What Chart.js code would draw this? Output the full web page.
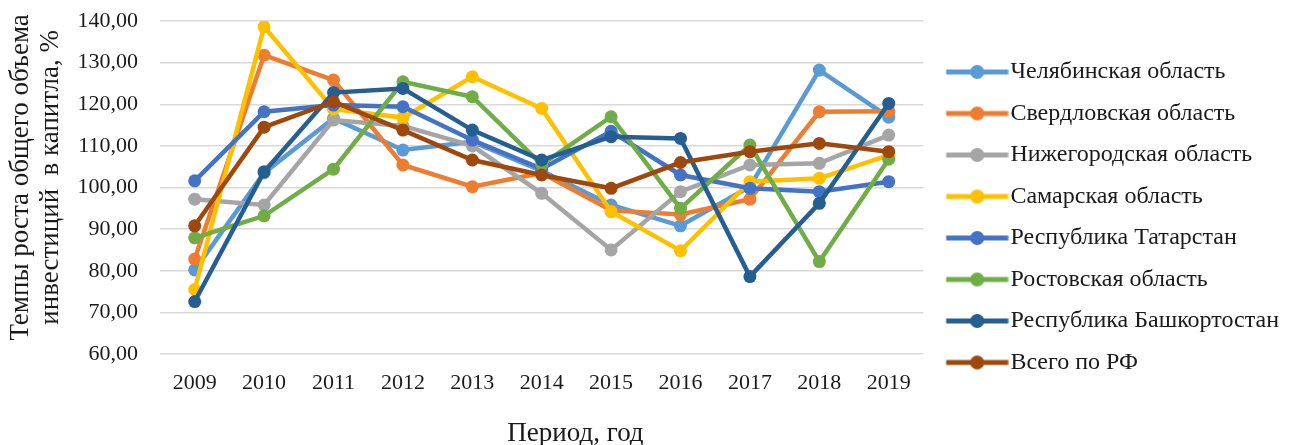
<!DOCTYPE html>
<html lang="ru">
<head>
<meta charset="utf-8">
<title>Темпы роста инвестиций</title>
<script src="https://cdn.jsdelivr.net/npm/chart.js@4.4.1/dist/chart.umd.min.js"></script>
<style>
    html, body { margin: 0; padding: 0; background: #fff; }
    #wrap { width: 1289px; height: 445px; }
</style>
</head>
<body>
<div id="wrap"><canvas id="investChart" width="1289" height="445"></canvas></div>
<script>
// ===== DATA =====
const years = ['2009', '2010', '2011', '2012', '2013', '2014', '2015', '2016', '2017', '2018', '2019'];
const seriesNames = [
    'Челябинская область',
    'Свердловская область',
    'Нижегородская область',
    'Самарская область',
    'Республика Татарстан',
    'Ростовская область',
    'Республика Башкортостан',
    'Всего по РФ'
];
const chelyabinsk = [80.2, 103.5, 116.6, 109.0, 111.0, 104.0, 95.8, 90.8, 100.2, 128.2, 116.9];
const sverdlovsk = [82.8, 131.8, 125.8, 105.4, 100.2, 103.5, 94.5, 93.5, 97.2, 118.2, 118.3];
const nizhny = [97.2, 95.8, 116.2, 114.8, 110.0, 98.6, 85.0, 99.0, 105.4, 105.8, 112.6];
const samara = [75.5, 138.6, 118.8, 116.8, 126.6, 119.0, 94.2, 84.8, 101.4, 102.2, 107.8];
const tatarstan = [101.6, 118.2, 119.8, 119.4, 111.4, 104.5, 113.5, 103.0, 99.8, 99.0, 101.4];
const rostov = [87.9, 93.2, 104.4, 125.4, 121.8, 105.5, 117.0, 95.0, 110.2, 82.2, 106.8];
const bashkortostan = [72.6, 103.8, 122.8, 123.8, 113.8, 106.6, 112.2, 111.8, 78.6, 96.2, 120.2];
const russiaTotal = [90.8, 114.5, 120.6, 113.8, 106.6, 103.0, 99.8, 106.0, 108.6, 110.6, 108.6];
const seriesValues = [chelyabinsk, sverdlovsk, nizhny, samara, tatarstan, rostov, bashkortostan, russiaTotal];
const seriesColors = ['#5B9BD5', '#ED7D31', '#A5A5A5', '#FFC000', '#4472C4', '#70AD47', '#255E91', '#9E480E'];
// leading spaces nudge the titles off-centre, as in the original
const yTitle = ['\u00a0\u00a0\u00a0Темпы роста общего объема', '\u00a0\u00a0\u00a0инвестиций  в капитла, %'];
const xTitle = '\u00a0'.repeat(10) + 'Период, год';

const FONT = 'Liberation Serif, Times New Roman, serif';
const TEXT = '#1a1a1a';

// ===== LEGEND MARKER (line with dot) =====
function makeMarker(color) {
    const c = document.createElement('canvas');
    c.width = 78;
    c.height = 16;
    const g = c.getContext('2d');
    g.strokeStyle = color;
    g.lineWidth = 5;
    g.beginPath();
    g.moveTo(15.5, 8);
    g.lineTo(77.5, 8);
    g.stroke();
    g.fillStyle = color;
    g.beginPath();
    g.arc(46.5, 8, 7, 0, Math.PI * 2);
    g.fill();
    return c;
}
const markers = seriesColors.map(makeMarker);

// ===== DATASETS =====
const datasets = seriesNames.map((name, i) => ({
    label: name,
    data: seriesValues[i],
    borderColor: seriesColors[i],
    backgroundColor: seriesColors[i],
    borderWidth: 4.5,
    pointRadius: 6.5,
    pointHoverRadius: 6.5,
    pointBorderWidth: 0,
    tension: 0,
    order: seriesNames.length - i   // later series drawn on top, like Excel
}));

// ===== CHART =====
const ctx = document.getElementById('investChart').getContext('2d');
new Chart(ctx, {
    type: 'line',
    data: { labels: years, datasets },
    options: {
        responsive: false,
        animation: false,
        layout: { padding: { top: 21, right: 0, bottom: 0, left: 0 } },
        plugins: {
            tooltip: { enabled: false },
            legend: {
                position: 'right',
                align: 'start',
                maxWidth: 400,
                title: {
                    display: true,
                    text: ' ',
                    font: { family: FONT, size: 10, lineHeight: 1 },
                    padding: { top: 0, bottom: 11.5 }
                },
                labels: {
                    color: TEXT,
                    font: { family: FONT, size: 24 },
                    usePointStyle: true,
                    pointStyleWidth: 57.5,
                    padding: 17.5,
                    generateLabels(chart) {
                        return chart.data.datasets.map((ds, i) => ({
                            text: ds.label,
                            fillStyle: ds.borderColor,
                            strokeStyle: ds.borderColor,
                            lineWidth: 0,
                            pointStyle: markers[i],
                            fontColor: TEXT,
                            hidden: false,
                            datasetIndex: i
                        }));
                    }
                }
            }
        },
        scales: {
            x: {
                offset: true,
                grid: { display: false, drawTicks: false },
                border: { display: false },
                afterFit: scale => { scale.height = 91; },
                ticks: { color: TEXT, font: { family: FONT, size: 22 }, padding: 16, maxRotation: 0 },
                title: {
                    display: true,
                    text: xTitle,
                    color: TEXT,
                    font: { family: FONT, size: 27, lineHeight: 0.8 },
                    padding: { top: 10, bottom: 0 }
                }
            },
            y: {
                min: 60,
                max: 140,
                grid: { color: '#d9d9d9', lineWidth: 1.5, drawTicks: false },
                border: { display: false },
                afterFit: scale => {
                    scale.width = 160;
                    scale.paddingTop = 0;
                    scale.paddingBottom = 0;
                },
                ticks: {
                    stepSize: 10,
                    color: TEXT,
                    font: { family: FONT, size: 22 },
                    padding: 22,
                    callback: v => v.toFixed(2).replace('.', ',')
                },
                title: {
                    display: true,
                    text: yTitle,
                    color: TEXT,
                    font: { family: FONT, size: 27, lineHeight: 1.1 },
                    padding: { top: 6, bottom: 10 }
                }
            }
        }
    }
});
</script>
</body>
</html>
